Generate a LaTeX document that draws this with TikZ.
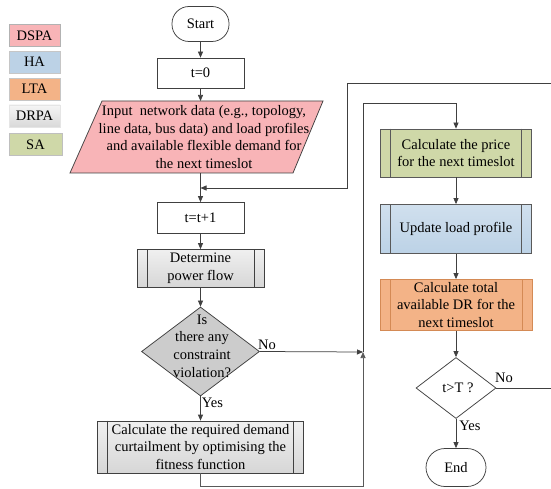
\documentclass[tikz,border=0pt]{standalone}
\usepackage{fontspec}
\setmainfont{Liberation Serif}
\usetikzlibrary{arrows.meta,shapes.geometric}
\definecolor{dspa}{HTML}{F8B4B7}
\definecolor{ha}{HTML}{BCD2E6}
\definecolor{lta}{HTML}{F3B387}
\definecolor{drpa}{HTML}{D5D5D5}
\definecolor{sa}{HTML}{CFD8A8}
\definecolor{lncol}{HTML}{404040}
\definecolor{ltaborder}{HTML}{D48A55}
\begin{document}
\begin{tikzpicture}[x=1pt,y=-1pt,
  font=\fontsize{14.5}{17.7}\selectfont,
  arr/.style={draw=lncol, line width=0.75pt, -{Triangle[length=6pt,width=5pt]}},
  plain/.style={draw=lncol, line width=0.75pt},
  box/.style={draw=lncol, line width=0.75pt, inner sep=0pt, align=center, rectangle},
  term/.style={box, rounded corners=17pt, minimum width=#1, minimum height=35pt},
  sbox/.style={box, minimum width=87pt, minimum height=30pt},
  procbox/.style={box, minimum width=#1},
  grayshade/.style={top color=gray!12, bottom color=gray!32},
  decbox/.style={draw=lncol, line width=0.75pt, diamond, inner sep=0pt},
  legbox/.style={inner sep=0pt, minimum width=51pt, minimum height=22pt, line width=0.6pt},
  lbl/.style={inner sep=0pt}
]
\clip (0,0) rectangle (551,489);
\fill[white] (0,0) rectangle (551,489);

% legend
\node[legbox, fill=dspa, draw=gray!60] (lg1) at (34.5,35.5) {DSPA};
\node[legbox, fill=ha, draw=gray!45] (lg2) at (34.5,62) {HA};
\node[legbox, fill=lta, draw=gray!45] (lg3) at (34.5,89) {LTA};
\node[legbox, top color=gray!8, bottom color=gray!30, draw=gray!20] (lg4) at (34.5,116) {DRPA};
\node[legbox, fill=sa, draw=gray!50, minimum width=53pt] (lg5) at (35.5,144.5) {SA};

% left column
\node[term=57pt] (start) at (200.5,24) {Start};
\node[sbox] (t0) at (200.5,73) {t=0};
\fill[dspa] (102,101) -- (323,101) -- (293,173) -- (70,173) -- cycle;
\draw[plain] (102,101) -- (323,101) -- (293,173) -- (70,173) -- cycle;
\node[lbl, align=center, minimum height=72pt] (inp) at (204,137)
  {Input\ \ network data (e.g., topology,\\line data, bus data) and load profiles\\and available flexible demand for\\the next timeslot};
\node[sbox, minimum height=31pt] (t1) at (200.5,218) {t=t+1};
\node[procbox=127pt, minimum height=38pt, grayshade] (dpf) at (200.5,268.5) {Determine\\power flow};
\node[decbox, fill=gray!40, minimum width=118pt, minimum height=89pt] (d1) at (200.5,351.5) {};
\node[lbl, align=center] (d1t) at (202,346) {Is\\there any\\constraint\\violation?};
\node[procbox=206pt, minimum height=52pt, grayshade] (cal) at (200.5,447)
  {Calculate the required demand\\curtailment by optimising the\\fitness function};

% right column
\node[procbox=151pt, minimum height=48pt, fill=sa, draw=gray!70!black] (price) at (456,153)
  {Calculate the price\\for the next timeslot};
\node[procbox=151pt, minimum height=49pt, top color=ha!70, bottom color=ha, draw=gray!70!black] (upd) at (456,229)
  {Update load profile};
\node[procbox=152pt, minimum height=51pt, fill=lta, draw=ltaborder] (dr) at (456,305)
  {Calculate total\\available DR for the\\next timeslot};
\node[decbox, fill=white, minimum width=80pt, minimum height=61pt] (d2) at (456,388) {};
\node[lbl] (d2t) at (458,388) {t>T ?};
\node[term=60pt, minimum height=38pt, rounded corners=19pt] (end) at (456,467.5) {End};

% inner lines of predefined-process boxes
\foreach \n/\c in {dpf/lncol, cal/lncol, price/gray!70!black, upd/gray!70!black, dr/ltaborder}
  \draw[draw=\c, line width=0.75pt]
    ([xshift=10.5pt]\n.north west) -- ([xshift=10.5pt]\n.south west)
    ([xshift=-10.5pt]\n.north east) -- ([xshift=-10.5pt]\n.south east);

% coordinates
\coordinate (J) at (363,352);
\coordinate (K) at (t1.north |- 0,188);
\coordinate (R) at (556,388);

% connectors
\draw[arr] (start) -- (t0);
\draw[arr] (t0.south) -- (t0.south |- 0,101);
\draw[arr] (inp.south -| t1.north) -- (t1.north);
\draw[arr] (t1) -- (dpf);
\draw[arr] (dpf) -- (d1);
\draw[arr] (d1.south) -- (cal.north);
\draw[arr] (d1.east) -- (J);
\draw[arr, draw=gray!70!black] (cal.south) -- (cal.south |- 0,486) -| (J);
\draw[arr] (J) -- (J |- 0,103) -| (price.north);
\draw[arr] (price) -- (upd);
\draw[arr] (upd) -- (dr);
\draw[arr] (dr) -- (d2);
\draw[arr] (d2.south) -- (end.north);
\draw[arr] (d2.east) -- (R) |- (347,83) |- (K);

% labels
\node[lbl] (no1) at (267,345) {No};
\node[lbl] (yes1) at (212.5,403) {Yes};
\node[lbl] (no2) at (504,378) {No};
\node[lbl] (yes2) at (470,426) {Yes};
\end{tikzpicture}
\end{document}
